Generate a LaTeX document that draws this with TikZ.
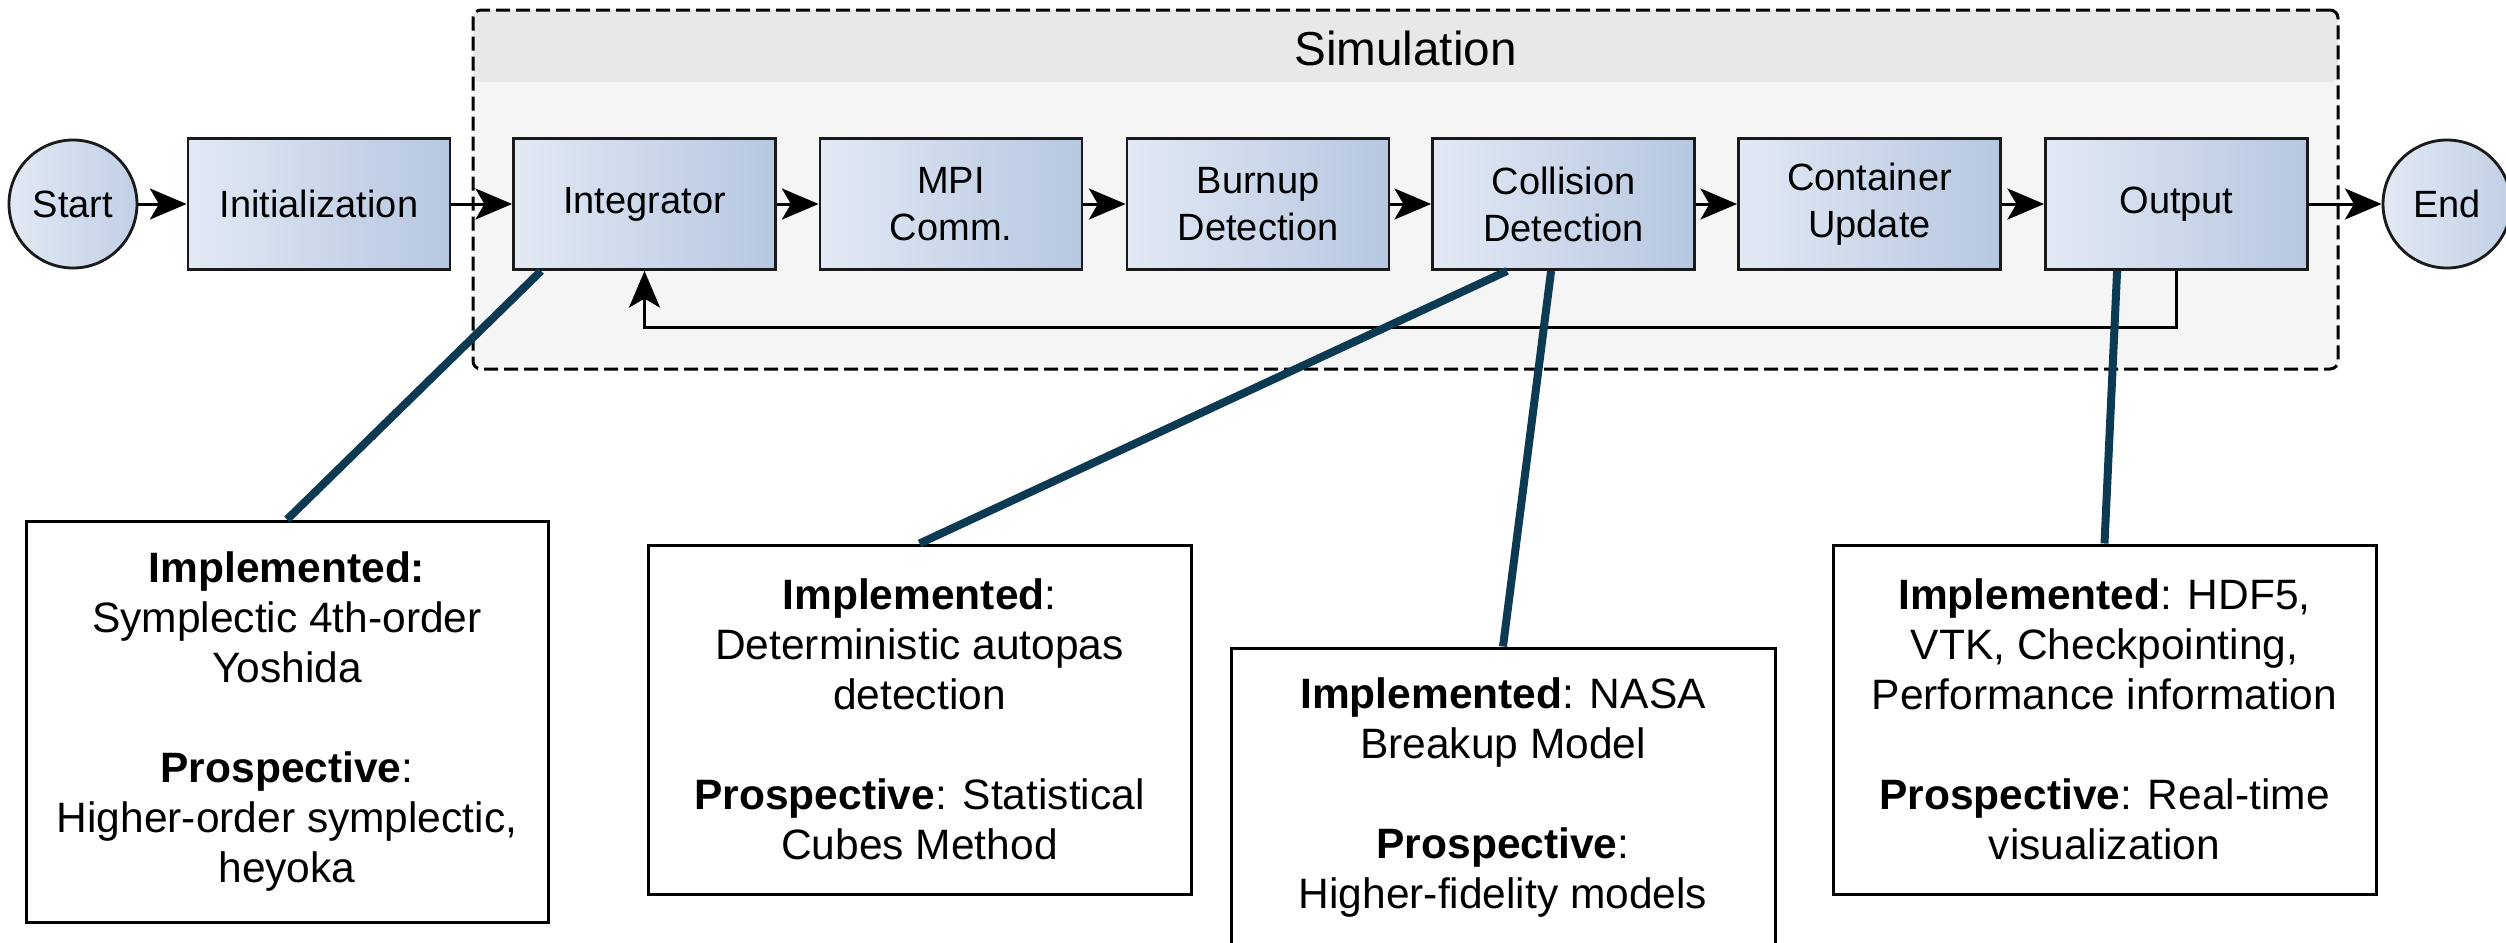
\documentclass[tikz,border=0pt]{standalone}
\usepackage{fontspec}
\setmainfont{Liberation Sans}
\usetikzlibrary{arrows.meta,calc}
\definecolor{boxlight}{HTML}{E2E9F4}
\definecolor{boxdark}{HTML}{B6C7E1}
\definecolor{simfill}{HTML}{F5F5F5}
\definecolor{simhead}{HTML}{E8E8E8}
\definecolor{callcol}{HTML}{0B3A52}
\definecolor{edgecol}{HTML}{1A1A1A}

\begin{document}
\begin{tikzpicture}[x=0.3pt,y=-0.3pt,
  every node/.style={font=\fontsize{11.4pt}{14.1pt}\selectfont, text=black},
  stage/.style={draw=edgecol, line width=0.85pt, left color=boxlight, right color=boxdark,
    minimum width=78.6pt, minimum height=39.3pt, align=center, inner sep=0pt},
  terminal/.style={circle, draw=edgecol, line width=0.85pt, left color=boxlight,
    right color=boxdark!75!boxlight, minimum size=38.4pt, inner sep=0pt},
  flow/.style={draw=black, line width=0.9pt, -{Stealth[length=11pt,width=9.3pt,inset=2.7pt]}},
  callout/.style={draw=callcol, line width=2.4pt},
  note/.style={draw=black, line width=0.9pt, fill=white, align=center,
    font=\fontsize{12.75pt}{15pt}\selectfont, inner sep=0pt},
  simbox/.style={fill=simfill, draw=black, line width=0.9pt, dash pattern=on 4.2pt off 1.8pt,
    rounded corners=2.4pt, inner sep=0pt,
    path picture={\fill[simhead] (path picture bounding box.north west) rectangle
      ([yshift=-21.6pt]path picture bounding box.north east);}}
]
\useasboundingbox (0,0) rectangle (2506,942);

% simulation loop container with its title band
\node[simbox, minimum width=559.5pt, minimum height=107.7pt] (sim) at (1405.5,189.5) {};
\node[font=\fontsize{14.3pt}{17pt}\selectfont, anchor=base] (simtitle) at (1405.5,65) {Simulation};

% pipeline stages
\node[terminal] (start) at (73,204) {Start};
\node[stage] (init) at (319,204) {Initialization};
\node[stage] (integ) at (644.5,204) {Integrator};
\node[stage] (mpi) at (951,204) {MPI\\Comm.};
\node[stage] (burn) at (1258,204) {Burnup\\Detection};
\node[stage] (coll) at (1563.5,204) {Collision\\Detection};
\node[stage] (cont) at (1869.5,204) {Container\\Update};
\node[stage] (outp) at (2176.5,204) {Output};
\node[terminal] (stop) at (2447,204) {End};

\draw[flow] (start) -- (init);
\draw[flow] (init) -- (integ);
\draw[flow] (integ) -- (mpi);
\draw[flow] (mpi) -- (burn);
\draw[flow] (burn) -- (coll);
\draw[flow] (coll) -- (cont);
\draw[flow] (cont) -- (outp);
\draw[flow] (outp) -- (stop);

% time-step loop back to the integrator
\coordinate (loop) at (644.5,327);
\draw[flow] (outp.south) |- (loop) -- (integ.south);

% notes on implemented and prospective features
\node[note, minimum width=156.6pt, minimum height=120.3pt] (n1) at (287,721.5)
  {\textbf{Implemented:}\\ Symplectic 4th-order\\ Yoshida\\[15pt]
   \textbf{Prospective}:\\ Higher-order symplectic,\\ heyoka};
\node[note, minimum width=162.9pt, minimum height=104.7pt] (n2) at (919.5,719.5)
  {\textbf{Implemented}:\\ Deterministic autopas\\ detection\\[15pt]
   \textbf{Prospective}: Statistical\\ Cubes Method};
\node[note, minimum width=163.2pt, minimum height=89.4pt] (n3) at (1503,797)
  {\textbf{Implemented}: NASA\\ Breakup Model\\[15pt]
   \textbf{Prospective}:\\ Higher-fidelity models};
\node[note, minimum width=162.9pt, minimum height=104.7pt] (n4) at (2104.5,719.5)
  {\textbf{Implemented}: HDF5,\\ VTK, Checkpointing,\\ Performance information\\[15pt]
   \textbf{Prospective}: Real-time\\ visualization};

\draw[callout] ([xshift=8.7pt]integ.south west) -- (n1.north);
\draw[callout] ([xshift=22.8pt]coll.south west) -- (n2.north);
\draw[callout] ([xshift=36pt]coll.south west) -- (n3.north);
\draw[callout] ([xshift=21.9pt]outp.south west) -- (n4.north);
\end{tikzpicture}
\end{document}
